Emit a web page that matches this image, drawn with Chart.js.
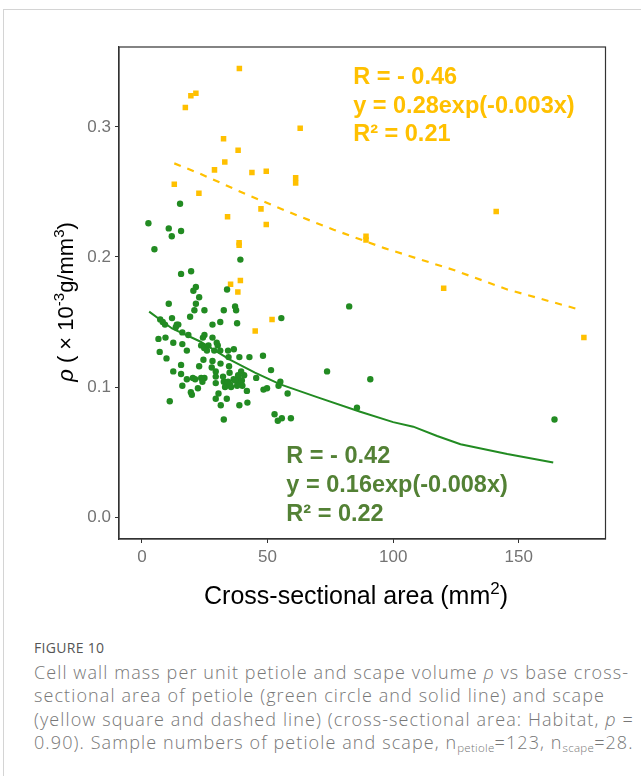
<!DOCTYPE html>
<html>
<head>
<meta charset="utf-8">
<script src="https://cdn.jsdelivr.net/npm/chart.js@4.4.1/dist/chart.umd.min.js"></script>
<style>
  html, body { margin: 0; padding: 0; background: #fff; }
  body { width: 641px; height: 776px; overflow: hidden; position: relative; }
  .card { position: absolute; left: 3px; top: 9px; width: 700px; height: 820px; border: 1px solid #d4d4d4; }
  #chart { position: absolute; left: 0; top: 0; }
  .figlabel { position: absolute; left: 34px; top: 638px; line-height: 20px; font-family: "Open Sans", Lato, sans-serif; font-size: 14px; letter-spacing: 0.3px; color: #555; }
  .caption { position: absolute; left: 34px; top: 661px; line-height: 23.3px; font-family: "Open Sans", Lato, sans-serif; font-weight: 300; font-size: 18px; letter-spacing: 1.1px; color: #777; white-space: nowrap; }
  .caption sub { font-size: 11.5px; vertical-align: -3px; line-height: 0; letter-spacing: 0.3px; }
</style>
</head>
<body>
<div class="card"></div>
<canvas id="chart" width="641" height="620"></canvas>
<div class="figlabel">FIGURE 10</div>
<div class="caption">Cell wall mass per unit petiole and scape volume <i>ρ</i> vs base cross-<br>sectional area of petiole (green circle and solid line) and scape<br>(yellow square and dashed line) (cross-sectional area: Habitat, <i>p</i> =<br>0.90). Sample numbers of petiole and scape, n<sub>petiole</sub>=123, n<sub>scape</sub>=28.</div>
<script>
// petiole (green circles)
const petioleArea = [2.6, 15.2, 10.7, 15.6, 11.9, 5.0, 39.2, 15.6, 19.6, 21.5, 20.5, 33.9, 22.8, 21.5, 10.7, 20.9,
  24.9, 32.6, 37.1, 37.5, 19.2, 12.0, 37.9, 55.5, 82.5, 28.1, 31.2, 13.9, 14.5, 13.5, 7.3, 8.3, 9.2, 16.1, 18.5,
  24.9, 24.3, 28.1, 6.6, 9.4, 12.5, 16.1, 23.6, 24.8, 26.5, 25.9, 29.8, 30.2, 28.8, 31.2, 17.9, 7.1, 9.8, 24.5,
  28.1, 31.3, 34.5, 36.6, 38.8, 42.8, 48.2, 15.6, 22.8, 27.8, 34.7, 51.4, 73.7, 90.9, 29.4, 29.4, 12.5, 15.6,
  17.9, 20.3, 21.2, 23.6, 24.9, 24.1, 29.4, 32.6, 33.8, 33.1, 35.5, 36.5, 39.5, 38.3, 40.7, 38.4, 39.8, 39.1,
  37.1, 45.5, 34.3, 40.0, 41.8, 48.4, 49.8, 54.4, 55.1, 58.0, 16.1, 22.3, 19.5, 19.9, 30.5, 29.4, 33.8, 11.1,
  31.4, 38.8, 42.0, 85.6, 32.6, 52.8, 54.1, 55.7, 59.3, 164.2, 34.9, 35.1, 37.9, 32.3, 34.3];
const petioleRho = [0.226, 0.241, 0.222, 0.220, 0.216, 0.206, 0.198, 0.187, 0.189, 0.177, 0.174, 0.175, 0.169, 0.164,
  0.164, 0.159, 0.159, 0.159, 0.162, 0.159, 0.154, 0.153, 0.149, 0.153, 0.162, 0.148, 0.150, 0.148, 0.148, 0.146,
  0.152, 0.150, 0.148, 0.142, 0.140, 0.140, 0.138, 0.138, 0.137, 0.138, 0.134, 0.133, 0.132, 0.130, 0.132, 0.128,
  0.134, 0.132, 0.128, 0.128, 0.128, 0.127, 0.122, 0.121, 0.120, 0.118, 0.123, 0.129, 0.123, 0.123, 0.124, 0.117,
  0.116, 0.115, 0.116, 0.113, 0.112, 0.106, 0.112, 0.108, 0.112, 0.110, 0.106, 0.107, 0.106, 0.107, 0.107, 0.104,
  0.103, 0.104, 0.102, 0.100, 0.100, 0.106, 0.112, 0.109, 0.109, 0.107, 0.105, 0.103, 0.105, 0.107, 0.104, 0.101,
  0.097, 0.098, 0.099, 0.101, 0.104, 0.095, 0.101, 0.099, 0.096, 0.094, 0.095, 0.091, 0.091, 0.089, 0.086, 0.086,
  0.088, 0.084, 0.075, 0.079, 0.074, 0.076, 0.076, 0.075, 0.111, 0.102, 0.101, 0.108, 0.128];

// scape (yellow squares)
const scapeArea = [38.8, 19.5, 21.5, 17.3, 63.0, 32.5, 38.3, 33.0, 28.9, 43.8, 49.5, 61.2, 61.2, 12.9, 22.7, 47.4,
  34.1, 49.5, 38.7, 38.7, 35.3, 39.2, 38.2, 51.8, 45.1, 141.0, 89.2, 89.2, 120.1, 175.9];
const scapeRho = [0.345, 0.324, 0.326, 0.315, 0.299, 0.291, 0.282, 0.273, 0.267, 0.265, 0.266, 0.261, 0.257, 0.256,
  0.249, 0.237, 0.231, 0.225, 0.211, 0.209, 0.179, 0.182, 0.173, 0.152, 0.143, 0.235, 0.216, 0.213, 0.176, 0.138];

// fitted curves
const petioleFitArea = [2.9, 12, 23.2, 35, 45, 55.1, 70, 86.9, 100, 108, 117.5, 126.8, 145.4, 163.7];
const petioleFitRho = [0.158, 0.145, 0.135, 0.121, 0.111, 0.102, 0.092, 0.081, 0.073, 0.0695, 0.0623, 0.056, 0.0485, 0.042];
const scapeFitArea = [12.9, 23.2, 41.8, 61.7, 76.3, 96.2, 124.1, 145.4, 173.3];
const scapeFitRho = [0.272, 0.264, 0.248, 0.232, 0.221, 0.207, 0.190, 0.175, 0.160];

const xTickValues = [0, 50, 100, 150];
const xTickLabels = ['0', '50', '100', '150'];
const yTickValues = [0, 0.1, 0.2, 0.3];
const yTickLabels = ['0.0', '0.1', '0.2', '0.3'];

const scapeNote = ['R = - 0.46', 'y = 0.28exp(-0.003x)', 'R² = 0.21'];
const petioleNote = ['R = - 0.42', 'y = 0.16exp(-0.008x)', 'R² = 0.22'];

const GREEN = '#228B22';
const GREEN_TEXT = '#538135';
const YELLOW = '#FFC000';

function toPoints(xs, ys) {
  return xs.map((x, i) => ({ x: x, y: ys[i] }));
}

// draws the panel box, the equations and both axis titles
const extras = {
  id: 'extras',
  afterDraw(chart) {
    const ctx = chart.ctx;
    const a = chart.chartArea;
    const sx = chart.scales.x, sy = chart.scales.y;
    ctx.save();
    ctx.strokeStyle = '#333';
    ctx.lineWidth = 1.2;
    ctx.strokeRect(a.left, a.top, a.right - a.left, a.bottom - a.top);

    ctx.font = 'bold 23.5px "Liberation Sans", Arial, sans-serif';
    ctx.textAlign = 'left';
    ctx.textBaseline = 'middle';
    ctx.fillStyle = YELLOW;
    scapeNote.forEach((t, i) => {
      ctx.fillText(t, sx.getPixelForValue(84.1), sy.getPixelForValue(0.3377 - i * 0.0219));
    });
    ctx.fillStyle = GREEN_TEXT;
    petioleNote.forEach((t, i) => {
      ctx.fillText(t, sx.getPixelForValue(57.5), sy.getPixelForValue(0.0462 - i * 0.0223));
    });

    // x title with superscript
    ctx.fillStyle = '#000';
    ctx.textBaseline = 'alphabetic';
    const base = '25px "Liberation Sans", Arial, sans-serif';
    const small = '17px "Liberation Sans", Arial, sans-serif';
    const xParts = [['Cross-sectional area (mm', base, 0], ['2', small, -10], [')', base, 0]];
    drawParts(ctx, xParts, 356, 604);

    // y title, rotated
    ctx.translate(72.5, 302);
    ctx.rotate(-Math.PI / 2);
    const yb = '22px "Liberation Sans", Arial, sans-serif';
    const yi = 'italic 22px "Liberation Sans", Arial, sans-serif';
    const ys = '15px "Liberation Sans", Arial, sans-serif';
    const yParts = [['ρ', yi, 0], [' ( × 10', yb, 0], ['-3', ys, -9], ['g/mm', yb, 0], ['3', ys, -9], [')', yb, 0]];
    drawParts(ctx, yParts, 0, 0);
    ctx.restore();
  }
};

function drawParts(ctx, parts, cx, baseY) {
  let total = 0;
  parts.forEach(p => { ctx.font = p[1]; total += ctx.measureText(p[0]).width; });
  let x = cx - total / 2;
  parts.forEach(p => {
    ctx.font = p[1];
    ctx.fillText(p[0], x, baseY + p[2]);
    x += ctx.measureText(p[0]).width;
  });
}

const ctx = document.getElementById('chart').getContext('2d');
const chart = new Chart(ctx, {
  type: 'scatter',
  data: {
    datasets: [
      {
        type: 'line',
        label: 'petiole fit',
        data: toPoints(petioleFitArea, petioleFitRho),
        borderColor: GREEN,
        borderWidth: 2,
        pointRadius: 0,
        tension: 0,
        fill: false,
        order: 0
      },
      {
        type: 'line',
        label: 'scape fit',
        data: toPoints(scapeFitArea, scapeFitRho),
        borderColor: YELLOW,
        borderWidth: 2.2,
        borderDash: [7, 7],
        pointRadius: 0,
        tension: 0,
        fill: false,
        order: 0
      },
      {
        label: 'petiole',
        data: toPoints(petioleArea, petioleRho),
        backgroundColor: GREEN,
        borderWidth: 0,
        pointStyle: 'circle',
        pointRadius: 3.2,
        order: 1
      },
      {
        label: 'scape',
        data: toPoints(scapeArea, scapeRho),
        backgroundColor: YELLOW,
        borderWidth: 0,
        pointStyle: 'rect',
        pointRadius: 3.9,
        order: 1
      }
    ]
  },
  options: {
    responsive: false,
    animation: false,
    layout: { padding: { left: 0, top: 47, right: 35.5, bottom: 0 } },
    plugins: {
      legend: { display: false },
      tooltip: { enabled: false }
    },
    scales: {
      x: {
        type: 'linear',
        min: -9.1,
        max: 184.5,
        afterFit: s => { s.height = 81; },
        afterBuildTicks: s => { s.ticks = xTickValues.map(v => ({ value: v })); },
        grid: { drawOnChartArea: false, drawTicks: true, tickLength: 4, color: '#333', lineWidth: 1 },
        border: { display: true, color: '#333', width: 1.2 },
        ticks: {
          color: '#737373',
          font: { family: '"Liberation Sans", Arial, sans-serif', size: 17 },
          padding: 4,
          maxRotation: 0,
          callback: (v, i) => xTickLabels[i]
        }
      },
      y: {
        type: 'linear',
        min: -0.0169,
        max: 0.3615,
        afterFit: s => { s.width = 119; },
        afterBuildTicks: s => { s.ticks = yTickValues.map(v => ({ value: v })); },
        grid: { drawOnChartArea: false, drawTicks: true, tickLength: 4, color: '#333', lineWidth: 1 },
        border: { display: true, color: '#333', width: 1.2 },
        ticks: {
          color: '#737373',
          font: { family: '"Liberation Sans", Arial, sans-serif', size: 17 },
          padding: 4,
          callback: (v, i) => yTickLabels[i]
        }
      }
    }
  },
  plugins: [extras]
});
</script>
</body>
</html>
